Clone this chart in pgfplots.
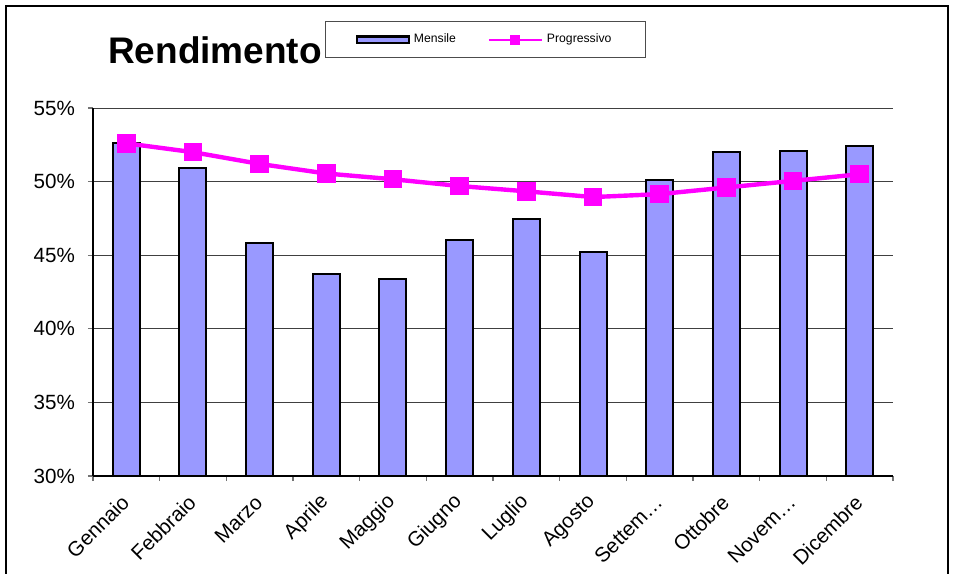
\documentclass[border=0pt]{standalone}
\usepackage{pgfplots}
\pgfplotsset{compat=1.18}
\usepackage{fontspec}
\setmainfont{Liberation Sans}
\definecolor{barfill}{HTML}{9999FF}
\definecolor{mag}{HTML}{FF00FF}
\begin{document}
\begin{tikzpicture}
\path[use as bounding box] (0pt,0pt) rectangle (477.5pt,-287pt);
\draw[line width=0.6pt] (3pt,-287pt) -- (3pt,-3pt) -- (474pt,-3pt) -- (474pt,-287pt);
\node[font=\fontsize{18.5}{22}\selectfont\bfseries, anchor=base, inner sep=0pt] at (107.5pt,-31.5pt) {Rendimento};
\begin{axis}[
  at={(46.5pt,-238pt)}, anchor=south west,
  scale only axis, width=400pt, height=184pt,
  xmin=-0.5, xmax=11.5, ymin=30, ymax=55,
  axis lines=left, axis line style={-, line width=0.6pt, black},
  xtick={0,...,11},
  xticklabels={Gennaio,Febbraio,Marzo,Aprile,Maggio,Giugno,Luglio,Agosto,Settem…,Ottobre,Novem…,Dicembre},
  minor xtick={-0.5,0.5,...,11.5},
  major x tick style={draw=none},
  ytick={30,35,40,45,50,55},
  yticklabels={30\%,35\%,40\%,45\%,50\%,55\%},
  tick align=outside, major tick length=2.5pt, minor tick length=2.5pt,
  tick style={black!55, line width=0.6pt},
  ymajorgrids, grid style={black!75, line width=0.5pt},
  tick label style={font=\fontsize{10.3}{12}\selectfont},
  xticklabel style={xshift=2pt, yshift=-6.5pt, rotate=45, anchor=east},
  yticklabel style={xshift=-3pt},
  legend columns=2,
  legend style={at={(0.4906,1.186)}, anchor=center, draw=black!70, line width=0.5pt,
    font=\fontsize{6.1}{7}\selectfont, inner xsep=15pt, inner ysep=4pt,
    /tikz/every even column/.append style={column sep=14pt}},
  clip=true,
]
\addplot[ybar, bar width=13.5pt, fill=barfill, draw=black, line width=1pt,
  legend image code/.code={\draw[fill=barfill, draw=black, line width=1.2pt] (0pt,-1.6pt) rectangle (26pt,1.6pt);}]
  coordinates {(0,52.6) (1,50.9) (2,45.85) (3,43.75) (4,43.4) (5,46.03) (6,47.48) (7,45.2) (8,50.1) (9,51.98) (10,52.05) (11,52.45)};
\addlegendentry{Mensile}
\addplot[mag, line width=2.2pt, mark=square*, mark size=3.5pt, mark options={solid, fill=mag},
  legend image code/.code={\draw[mag, line width=1pt, mark=square*, mark size=2pt, mark repeat=2, mark phase=2] plot coordinates {(0pt,0pt) (13pt,0pt) (26.5pt,0pt)};}]
  coordinates {(0,52.6) (1,52.0) (2,51.2) (3,50.55) (4,50.16) (5,49.7) (6,49.34) (7,48.95) (8,49.15) (9,49.6) (10,50.05) (11,50.5)};
\addlegendentry{Progressivo}
\end{axis}
\end{tikzpicture}
\end{document}
